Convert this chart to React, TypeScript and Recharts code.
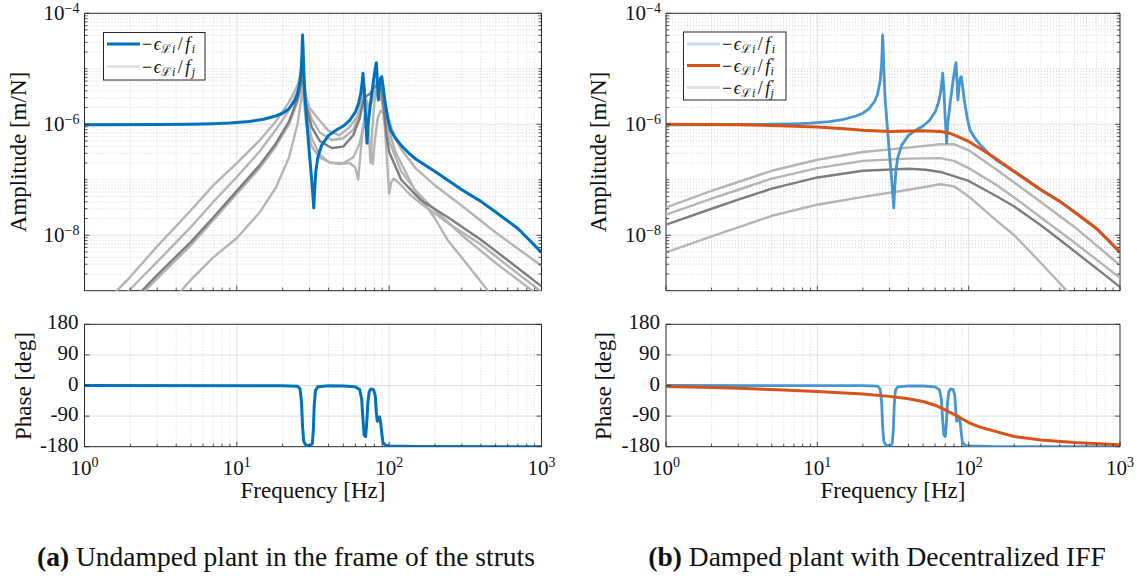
import React from 'react';
import { LineChart, Line, XAxis, YAxis, ReferenceLine, ReferenceArea } from 'recharts';

type Pt = [number, number];

const FONT = '"Liberation Serif", "DejaVu Serif", serif';
const INK = '#262626';

// axes
const freqTicks = [1, 10, 100, 1000];
const freqMinor = [2, 3, 4, 5, 6, 7, 8, 9, 20, 30, 40, 50, 60, 70, 80, 90, 200, 300, 400, 500, 600, 700, 800, 900];
const ampTicks = [1e-8, 1e-6, 1e-4];
const ampMinor = [
  2e-9, 3e-9, 4e-9, 5e-9, 6e-9, 7e-9, 8e-9, 9e-9,
  2e-8, 3e-8, 4e-8, 5e-8, 6e-8, 7e-8, 8e-8, 9e-8, 1e-7,
  2e-7, 3e-7, 4e-7, 5e-7, 6e-7, 7e-7, 8e-7, 9e-7,
  2e-6, 3e-6, 4e-6, 5e-6, 6e-6, 7e-6, 8e-6, 9e-6, 1e-5,
  2e-5, 3e-5, 4e-5, 5e-5, 6e-5, 7e-5, 8e-5, 9e-5,
];
const phaseTicks = [-180, -90, 0, 90, 180];

// -eps_Li / f_i (undamped), amplitude [m/N] and phase [deg]
const undampedAmp: Pt[] = [
  [1, 9.8e-7], [3, 9.9e-7], [5, 1.0e-6], [7, 1.02e-6], [9, 1.05e-6], [12, 1.12e-6], [15, 1.23e-6],
  [18, 1.41e-6], [20, 1.58e-6], [22, 1.91e-6], [24, 2.63e-6], [25, 3.47e-6], [26, 6.03e-6],
  [26.5, 1.05e-5], [26.8, 2.0e-5], [27.0, 4.07e-5], [27.2, 2.51e-5], [27.5, 1.0e-5], [28, 3.16e-6],
  [29, 8.9e-7], [30, 2.82e-7], [31, 1.0e-7], [31.6, 5.0e-8], [32.0, 3.1e-8], [32.4, 6.3e-8],
  [33, 1.41e-7], [34, 2.51e-7], [36, 4.17e-7], [40, 6.3e-7], [45, 7.9e-7], [50, 9.3e-7],
  [55, 1.17e-6], [60, 1.66e-6], [63, 2.4e-6], [65, 3.55e-6], [66.5, 5.6e-6], [67.3, 8.3e-6],
  [68.5, 4.47e-6], [70, 1.26e-6], [71.5, 4.57e-7], [73, 1.12e-6], [76, 2.82e-6], [79, 6.3e-6],
  [81, 1.0e-5], [82.4, 1.29e-5], [84, 5.0e-6], [84.9, 2.75e-6], [86.5, 5.0e-6], [88, 6.8e-6],
  [89.4, 7.2e-6], [91, 5.0e-6], [94, 2.51e-6], [98, 1.26e-6], [102, 7.9e-7], [110, 5.6e-7],
  [120, 4.17e-7], [135, 3.0e-7], [150, 2.34e-7], [200, 1.41e-7], [300, 6.6e-8], [400, 4.07e-8],
  [500, 2.63e-8], [700, 1.32e-8], [1000, 4.9e-9],
];
const undampedPhase: Pt[] = [
  [1, 0], [20, -0.5], [25, -2], [26, -10], [26.6, -50], [27.0, -120], [27.5, -165], [28.5, -176],
  [30.5, -177], [31.3, -170], [31.8, -130], [32.2, -60], [32.8, -15], [34, -4], [40, -1], [50, -1.5],
  [60, -4], [64, -12], [66, -40], [67.3, -100], [68.5, -145], [70, -150], [71, -120], [72.5, -50],
  [74, -18], [76, -10], [79, -12], [81, -30], [82.4, -80], [83.5, -105], [84.9, -100], [86.5, -92],
  [88, -110], [89.4, -140], [91, -168], [95, -176], [100, -178], [150, -179.5], [1000, -180],
];

// -eps_Li / f_j (undamped, other struts)
const crossUndamped1: Pt[] = [
  [1.5, 7.9e-10], [2, 1.78e-9], [3, 6.3e-9], [5, 2.82e-8], [7, 7.9e-8], [10, 2.0e-7], [14, 5.0e-7],
  [18, 1.12e-6], [22, 2.51e-6], [25, 5.0e-6], [26.5, 8.9e-6], [27.0, 1.12e-5], [27.5, 6.3e-6],
  [28.5, 3.16e-6], [30, 2.0e-6], [33, 1.41e-6], [40, 7.6e-7], [47, 6.3e-7], [55, 8.9e-7],
  [62, 1.41e-6], [66, 2.51e-6], [68, 5.0e-6], [70, 3.16e-6], [73, 2.0e-6], [77, 2.51e-6],
  [80, 3.98e-6], [83, 6.3e-6], [87, 5.0e-6], [90, 4.47e-6], [95, 2.0e-6], [100, 1.12e-6],
  [110, 5.6e-7], [120, 3.55e-7], [150, 1.58e-7], [200, 7.9e-8], [300, 3.39e-8], [500, 1.12e-8],
  [1000, 2.82e-9],
];
const crossUndamped2: Pt[] = [
  [1.8, 7.9e-10], [2.5, 2.0e-9], [3, 3.3e-9], [5, 1.41e-8], [7, 3.98e-8], [10, 1.12e-7], [14, 3.16e-7],
  [18, 7.9e-7], [22, 1.78e-6], [25, 3.98e-6], [26.5, 7.6e-6], [27.0, 1.0e-5], [27.5, 5.6e-6],
  [28.5, 2.51e-6], [31, 1.26e-6], [35, 7.1e-7], [42, 5.2e-7], [50, 5.6e-7], [58, 7.9e-7],
  [63, 1.41e-6], [67, 3.16e-6], [68.5, 4.47e-6], [71, 1.78e-6], [73.5, 6.3e-7], [75.5, 2.0e-7],
  [77.5, 7.9e-7], [80, 2.51e-6], [83, 5.0e-6], [86, 5.6e-6], [90, 5.0e-6], [94, 1.78e-6],
  [100, 5.0e-7], [120, 1.41e-7], [150, 6.3e-8], [200, 2.82e-8], [300, 1.0e-8], [500, 3.16e-9],
  [870, 1.0e-9], [1000, 7.6e-10],
];
const crossUndamped3: Pt[] = [
  [2.2, 7.9e-10], [3, 1.91e-9], [5, 7.6e-9], [7, 2.09e-8], [10, 6.3e-8], [14, 1.78e-7], [18, 4.47e-7],
  [22, 1.12e-6], [25, 2.82e-6], [26.5, 5.6e-6], [27.0, 8.3e-6], [27.5, 5.0e-6], [28.5, 2.24e-6],
  [31, 8.9e-7], [35, 5.0e-7], [42, 3.72e-7], [50, 3.98e-7], [58, 6.3e-7], [64, 1.26e-6],
  [68, 2.82e-6], [70, 3.16e-6], [75, 3.55e-6], [80, 4.8e-6], [85, 5.0e-6], [89, 3.98e-6],
  [92, 2.0e-6], [96, 6.3e-7], [100, 3.16e-7], [120, 1.0e-7], [160, 4.37e-8], [250, 2.0e-8],
  [400, 8.3e-9], [600, 3.55e-9], [1000, 1.2e-9],
];
const crossUndamped4: Pt[] = [
  [2.3, 7.9e-10], [3, 1.66e-9], [5, 6.6e-9], [7, 1.86e-8], [10, 5.6e-8], [14, 1.58e-7], [18, 3.98e-7],
  [22, 1.0e-6], [25, 2.51e-6], [26.5, 5.0e-6], [27.0, 7.1e-6], [27.5, 3.98e-6], [28.5, 1.58e-6],
  [31, 5.6e-7], [35, 2.82e-7], [40, 2.09e-7], [47, 1.91e-7], [55, 2.0e-7], [60, 1.66e-7],
  [62.6, 1.0e-7], [64.5, 2.51e-7], [67, 7.9e-7], [70, 1.78e-6], [75, 2.51e-6], [80, 3.16e-6],
  [85, 3.55e-6], [90, 2.51e-6], [94, 7.9e-7], [97, 2.0e-7], [100, 5.6e-8], [103, 8.9e-8],
  [107, 1.05e-7], [115, 8.9e-8], [135, 5.6e-8], [160, 3.8e-8], [250, 1.58e-8], [400, 6.8e-9],
  [600, 2.82e-9], [1000, 9.5e-10],
];
const crossUndamped5: Pt[] = [
  [4.0, 7.9e-10], [5, 1.58e-9], [7, 3.98e-9], [10, 8.9e-9], [14, 2.51e-8], [18, 7.1e-8], [22, 2.51e-7],
  [25, 1.0e-6], [26.5, 2.82e-6], [27.0, 5.0e-6], [27.5, 2.82e-6], [28.5, 1.0e-6], [31, 3.98e-7],
  [35, 2.51e-7], [42, 2.0e-7], [50, 2.0e-7], [58, 2.51e-7], [64, 4.47e-7], [68, 1.0e-6],
  [71, 7.9e-7], [75, 3.98e-7], [78, 1.91e-7], [80.5, 5.0e-7], [84, 1.26e-6], [88, 1.78e-6],
  [92, 1.58e-6], [96, 1.12e-6], [110, 3.16e-7], [146, 6.8e-8], [200, 2.0e-8], [241, 8.3e-9],
  [320, 3.16e-9], [445, 1.0e-9], [500, 7.1e-10],
];

// -eps_Li / f'_i (with decentralized IFF)
const dampedAmp: Pt[] = [
  [1, 1.0e-6], [3, 9.8e-7], [5, 9.5e-7], [10, 8.9e-7], [15, 8.3e-7], [20, 7.8e-7], [30, 7.4e-7],
  [50, 7.6e-7], [65, 7.4e-7], [75, 6.9e-7], [85, 6.0e-7], [100, 4.9e-7], [130, 3.16e-7],
  [150, 2.45e-7], [200, 1.41e-7], [300, 6.6e-8], [400, 4.07e-8], [500, 2.63e-8], [700, 1.32e-8],
  [1000, 5.0e-9],
];
const dampedPhase: Pt[] = [
  [1, -3], [2, -6], [3, -8], [5, -12], [10, -18], [20, -25], [30, -32], [40, -39], [50, -47],
  [60, -58], [70, -72], [85, -91], [100, -109], [120, -123], [150, -135], [200, -150], [300, -160],
  [500, -168], [1000, -174],
];

// -eps_Li / f'_j (with decentralized IFF)
const crossDamped1: Pt[] = [
  [1, 3.16e-8], [2, 6.3e-8], [3, 9.1e-8], [5, 1.45e-7], [10, 2.29e-7], [20, 3.16e-7], [40, 3.8e-7],
  [65, 4.37e-7], [80, 4.37e-7], [100, 3.39e-7], [150, 1.58e-7], [200, 8.9e-8], [300, 3.98e-8],
  [500, 1.41e-8], [1000, 2.88e-9],
];
const crossDamped2: Pt[] = [
  [1, 2.34e-8], [2, 4.57e-8], [3, 6.6e-8], [5, 1.05e-7], [10, 1.62e-7], [20, 2.19e-7], [40, 2.4e-7],
  [65, 2.45e-7], [80, 2.19e-7], [100, 1.62e-7], [150, 8.3e-8], [200, 4.8e-8], [300, 2.09e-8],
  [500, 7.4e-9], [1000, 1.7e-9],
];
const crossDamped3: Pt[] = [
  [1, 1.55e-8], [2, 3.0e-8], [3, 4.37e-8], [5, 6.9e-8], [10, 1.1e-7], [20, 1.45e-7], [40, 1.58e-7],
  [52, 1.51e-7], [65, 1.38e-7], [100, 9.5e-8], [150, 5.2e-8], [200, 3.3e-8], [300, 1.51e-8],
  [400, 8.3e-9], [1000, 1.17e-9],
];
const crossDamped5: Pt[] = [
  [1, 4.9e-9], [2, 9.5e-9], [3, 1.38e-8], [5, 2.24e-8], [10, 3.55e-8], [20, 4.9e-8], [40, 6.6e-8],
  [65, 8.3e-8], [80, 7.6e-8], [100, 5.0e-8], [150, 1.91e-8], [200, 1.0e-8], [300, 3.16e-9],
  [445, 1.0e-9], [500, 7.6e-10],
];

const BLUE = '#0072BD';
const BLUE_LIGHT = '#4596d1';
const ORANGE = '#D95319';
const GRAY_LIGHT = '#b4b4b4';
const GRAY_DARK = '#7d7d7d';
const TICK_FONT = 21;

type Series = { data: Pt[]; color: string; width: number };

const toRows = (d: Pt[]) => d.map(([f, v]) => ({ f, v }));

const supExp = (v: number) => {
  const e = Math.round(Math.log10(v));
  return e < 0 ? '\u2212' + Math.abs(e) : String(e);
};

const xTick = (side: 'bottom' | 'top', labels: boolean) => (p: any) => {
  const { x, y, payload } = p;
  const major = freqTicks.includes(payload.value);
  const len = major ? 5 : 3;
  const dir = side === 'bottom' ? -1 : 1;
  return (
    <g>
      <line x1={x} x2={x} y1={y} y2={y + dir * len} stroke={INK} strokeWidth={0.8} />
      {labels && major && side === 'bottom' && (
        <text x={x} y={y + 28.5} textAnchor="middle" fontFamily={FONT} fontSize={TICK_FONT} fill="#111">
          10<tspan dy={-8.5} fontSize={14}>{supExp(payload.value)}</tspan>
        </text>
      )}
    </g>
  );
};

const yTick = (side: 'left' | 'right', kind: 'amp' | 'phase') => (p: any) => {
  const { x, y, payload } = p;
  const v = payload.value;
  const major = kind === 'phase' || ampTicks.includes(v);
  const len = major ? 5 : 3;
  const dir = side === 'left' ? 1 : -1;
  return (
    <g>
      <line x1={x} x2={x + dir * len} y1={y} y2={y} stroke={INK} strokeWidth={0.8} />
      {side === 'left' && major && kind === 'amp' && (
        <text x={x - 5} y={y + 7} textAnchor="end" fontFamily={FONT} fontSize={TICK_FONT} fill="#111">
          10<tspan dy={-7.5} fontSize={14}>{supExp(v)}</tspan>
        </text>
      )}
      {side === 'left' && kind === 'phase' && (
        <text x={x - 6} y={y + 5} textAnchor="end" fontFamily={FONT} fontSize={TICK_FONT} fill="#111">
          {String(v)}
        </text>
      )}
    </g>
  );
};

type PanelProps = {
  left: number;
  top: number;
  width: number;
  height: number;
  // plot-area edges, the 1px axes are taken off inside
  margin: { top: number; right: number; bottom: number; left: number };
  kind: 'amp' | 'phase';
  series: Series[];
  xLabels: boolean;
};

function BodePanel({ left, top, width, height, margin, kind, series, xLabels }: PanelProps) {
  const isAmp = kind === 'amp';
  const yDomain: [number, number] = isAmp ? [1e-9, 1e-4] : [-180, 180];
  const yTicks = isAmp ? [...ampTicks, ...ampMinor] : phaseTicks;
  const yMajorGrid = isAmp ? [1e-8, 1e-6] : [-90, 0, 90];
  const yMinorGrid = isAmp ? ampMinor : [];
  const xAll = [...freqTicks, ...freqMinor];
  const yScale = isAmp ? 'log' : 'linear';
  const m = { top: margin.top - 1, right: margin.right - 1, bottom: margin.bottom - 1, left: margin.left - 1 };
  return (
    <div style={{ position: 'absolute', left, top, width, height }}>
      <LineChart width={width} height={height} margin={m}>
        {freqMinor.map((f) => (
          <ReferenceLine key={'xm' + f} x={f} stroke="#c4c4c4" strokeWidth={0.7} strokeDasharray="1 2" zIndex={-10} />
        ))}
        {yMinorGrid.map((v) => (
          <ReferenceLine key={'ym' + v} y={v} stroke="#c4c4c4" strokeWidth={0.7} strokeDasharray="1 2" zIndex={-10} />
        ))}
        {[10, 100].map((f) => (
          <ReferenceLine key={'xM' + f} x={f} stroke="#dcdcdc" strokeWidth={0.9} zIndex={-10} />
        ))}
        {yMajorGrid.map((v) => (
          <ReferenceLine key={'yM' + v} y={v} stroke="#dcdcdc" strokeWidth={0.9} zIndex={-10} />
        ))}
        <XAxis
          dataKey="f" type="number" scale="log" domain={[1, 1000]} allowDataOverflow
          ticks={xAll} interval={0} tickSize={0} tickMargin={0} height={1}
          axisLine={false} tickLine={false} tick={xTick('bottom', xLabels)}
        />
        <XAxis
          xAxisId="top" orientation="top" type="number" scale="log" domain={[1, 1000]} allowDataOverflow
          ticks={xAll} interval={0} tickSize={0} tickMargin={0} height={1}
          axisLine={false} tickLine={false} tick={xTick('top', false)}
        />
        <YAxis
          type="number" scale={yScale} domain={yDomain} allowDataOverflow
          ticks={yTicks} interval={0} tickSize={0} tickMargin={0} width={1}
          axisLine={false} tickLine={false} tick={yTick('left', kind)}
        />
        <YAxis
          yAxisId="right" orientation="right" type="number" scale={yScale} domain={yDomain} allowDataOverflow
          ticks={yTicks} interval={0} tickSize={0} tickMargin={0} width={1}
          axisLine={false} tickLine={false} tick={yTick('right', kind)}
        />
        {series.map((s, i) => (
          <Line
            key={i}
            data={toRows(s.data)}
            dataKey="v"
            type="linear"
            stroke={s.color}
            strokeWidth={s.width}
            strokeLinejoin="round"
            dot={false}
            activeDot={false}
            isAnimationActive={false}
          />
        ))}
        <ReferenceArea
          x1={1} x2={1000} y1={yDomain[0]} y2={yDomain[1]}
          fill="none" fillOpacity={0} stroke={INK} strokeWidth={1} ifOverflow="visible"
        />
      </LineChart>
    </div>
  );
}

const leftAmpSeries: Series[] = [
  { data: crossUndamped1, color: GRAY_LIGHT, width: 2.4 },
  { data: crossUndamped2, color: GRAY_LIGHT, width: 2.4 },
  { data: crossUndamped4, color: GRAY_LIGHT, width: 2.4 },
  { data: crossUndamped5, color: GRAY_LIGHT, width: 2.4 },
  { data: crossUndamped3, color: GRAY_DARK, width: 2.4 },
  { data: undampedAmp, color: BLUE, width: 3 },
];
const rightAmpSeries: Series[] = [
  { data: crossDamped1, color: GRAY_LIGHT, width: 2.4 },
  { data: crossDamped2, color: GRAY_LIGHT, width: 2.4 },
  { data: crossDamped5, color: GRAY_LIGHT, width: 2.4 },
  { data: crossDamped3, color: GRAY_DARK, width: 2.4 },
  { data: undampedAmp, color: BLUE_LIGHT, width: 2.8 },
  { data: dampedAmp, color: ORANGE, width: 3 },
];

function LegendLabel({ x, y, sub, prime }: { x: number; y: number; sub: string; prime: boolean }) {
  return (
    <text x={x} y={y} fontFamily={FONT} fontSize={18} fill="#111">
      {'\u2212'}
      <tspan dx={1.5} fontStyle="italic">{'\u03f5'}</tspan>
      <tspan dx={0.5} dy={3} fontSize={12}>{'\u2112'}</tspan>
      <tspan dx={0.5} fontSize={12} fontStyle="italic">i</tspan>
      <tspan dx={2.5} dy={-3}>/</tspan>
      <tspan dx={2.5} fontStyle="italic">f</tspan>
      {prime ? (
        <>
          <tspan dx={1.5} dy={-6} fontSize={12}>{'\u2032'}</tspan>
          <tspan dx={-4} dy={9} fontSize={12} fontStyle="italic">{sub}</tspan>
        </>
      ) : (
        <tspan dx={1.5} dy={3} fontSize={12} fontStyle="italic">{sub}</tspan>
      )}
    </text>
  );
}

function Overlay() {
  return (
    <svg width={1137} height={579} style={{ position: 'absolute', left: 0, top: 0, pointerEvents: 'none' }}>
      <g fontFamily={FONT} fill="#111" fontSize={23}>
        <text transform="translate(26,152) rotate(-90)" textAnchor="middle">Amplitude [m/N]</text>
        <text transform="translate(31,386) rotate(-90)" textAnchor="middle">Phase [deg]</text>
        <text x={313} y={498} textAnchor="middle">Frequency [Hz]</text>
        <text transform="translate(606,152) rotate(-90)" textAnchor="middle">Amplitude [m/N]</text>
        <text transform="translate(611,386) rotate(-90)" textAnchor="middle">Phase [deg]</text>
        <text x={893} y={498} textAnchor="middle">Frequency [Hz]</text>
      </g>

      <rect x={103.5} y={32.5} width={101.5} height={47.5} fill="#fff" stroke={INK} strokeWidth={1} />
      <line x1={107} x2={140} y1={44} y2={44} stroke={BLUE} strokeWidth={3} />
      <line x1={107} x2={140} y1={66.5} y2={66.5} stroke="#e3e3e3" strokeWidth={3} />
      <LegendLabel x={142} y={50} sub="i" prime={false} />
      <LegendLabel x={142} y={72.5} sub="j" prime={false} />

      <rect x={683.5} y={32} width={102.5} height={68} fill="#fff" stroke={INK} strokeWidth={1} />
      <line x1={687} x2={720} y1={44} y2={44} stroke="#c6dcef" strokeWidth={3} />
      <line x1={687} x2={720} y1={65.5} y2={65.5} stroke={ORANGE} strokeWidth={3} />
      <line x1={687} x2={720} y1={87.5} y2={87.5} stroke="#e3e3e3" strokeWidth={3} />
      <LegendLabel x={722} y={50} sub="i" prime={false} />
      <LegendLabel x={722} y={71.5} sub="i" prime={true} />
      <LegendLabel x={722} y={93.5} sub="j" prime={true} />

      <g fontFamily={FONT} fill="#111" fontSize={27.5}>
        <text x={286} y={566} textAnchor="middle">
          <tspan fontWeight="bold">(a)</tspan> Undamped plant in the frame of the struts
        </text>
        <text x={877} y={566} textAnchor="middle">
          <tspan fontWeight="bold">(b)</tspan> Damped plant with Decentralized IFF
        </text>
      </g>
    </svg>
  );
}

export default function App() {
  return (
    <div style={{ position: 'absolute', left: 0, top: 0, width: 1137, height: 579, background: '#fff', overflow: 'hidden' }}>
      <BodePanel
        left={0} top={0} width={570} height={300}
        margin={{ top: 13.3, right: 28.5, bottom: 9.3, left: 84.5 }}
        kind="amp" series={leftAmpSeries} xLabels={false}
      />
      <BodePanel
        left={0} top={300} width={570} height={220}
        margin={{ top: 24.3, right: 28.5, bottom: 73.3, left: 84.5 }}
        kind="phase" series={[{ data: undampedPhase, color: BLUE, width: 3 }]} xLabels
      />
      <BodePanel
        left={570} top={0} width={567} height={300}
        margin={{ top: 13.3, right: 17, bottom: 9.3, left: 96 }}
        kind="amp" series={rightAmpSeries} xLabels={false}
      />
      <BodePanel
        left={570} top={300} width={567} height={220}
        margin={{ top: 24.3, right: 17, bottom: 73.3, left: 96 }}
        kind="phase"
        series={[
          { data: undampedPhase, color: BLUE_LIGHT, width: 2.8 },
          { data: dampedPhase, color: ORANGE, width: 3 },
        ]}
        xLabels
      />
      <Overlay />
    </div>
  );
}
